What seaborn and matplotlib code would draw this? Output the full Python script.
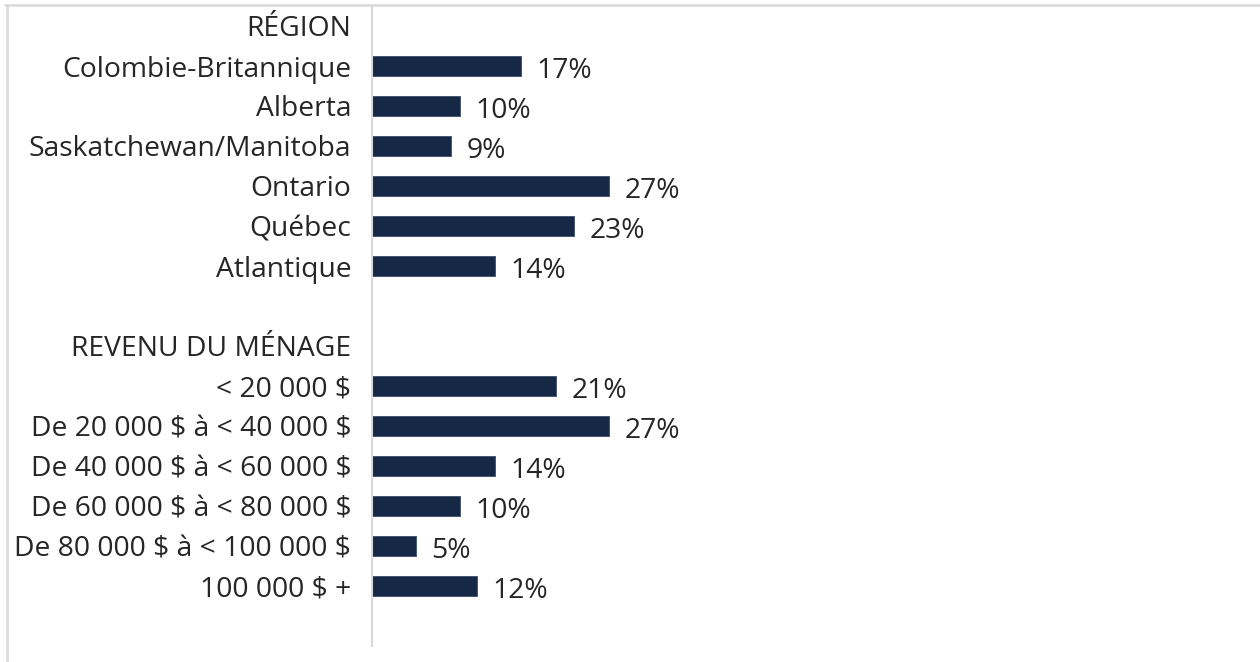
import numpy as np
import pandas as pd
import matplotlib
matplotlib.use("Agg")
import matplotlib.pyplot as plt
from matplotlib.lines import Line2D
import seaborn as sns

# Survey breakdown by region and household income (share of respondents, %)
region_header = "RÉGION"
regions = ["Colombie-Britannique", "Alberta", "Saskatchewan/Manitoba",
           "Ontario", "Québec", "Atlantique"]
region_values = [17, 10, 9, 27, 23, 14]

income_header = "REVENU DU MÉNAGE"
incomes = ["< 20 000 $", "De 20 000 $ à < 40 000 $", "De 40 000 $ à < 60 000 $",
           "De 60 000 $ à < 80 000 $", "De 80 000 $ à < 100 000 $", "100 000 $ +"]
income_values = [21, 27, 14, 10, 5, 12]

# Row order: section headings and spacer rows carry no bar
row_order = ([region_header] + regions + [" "] +
             [income_header] + incomes + ["  "])

df = pd.DataFrame({
    "categorie": regions + incomes,
    "pourcentage": region_values + income_values,
})

sns.set_theme(style="white")
plt.rcParams["font.family"] = ["Open Sans", "DejaVu Sans"]

BAR_COLOR = "#172846"
TEXT_COLOR = "#262626"
RULE_COLOR = "#d9d9d9"
FONT_SIZE = 20.3

fig = plt.figure(figsize=(12.6, 6.62), dpi=100)
ax = fig.add_axes([372 / 1260, 1 - 646 / 662, 878 / 1260, 640 / 662])

sns.barplot(data=df, y="categorie", x="pourcentage", order=row_order,
            orient="h", color=BAR_COLOR, width=0.5, saturation=1,
            edgecolor="#3b4d6b", linewidth=0.6, errorbar=None, ax=ax)

ax.set_xlim(0, 100)
ax.set_xlabel("")
ax.set_ylabel("")
ax.set_xticks([])
# Escape dollar signs so they are drawn literally, not as mathtext
ax.set_yticks(range(len(row_order)),
              labels=[lab.replace("$", r"\$") for lab in row_order])
ax.tick_params(axis="y", length=0, pad=15, labelsize=FONT_SIZE,
               labelcolor=TEXT_COLOR)

for side in ["top", "right", "bottom"]:
    ax.spines[side].set_visible(False)
ax.spines["left"].set_color(RULE_COLOR)
ax.spines["left"].set_linewidth(1.5)

value_labels = ax.bar_label(ax.containers[0], fmt="{:.0f}%", padding=11,
                            fontsize=FONT_SIZE, color=TEXT_COLOR)
# Value labels sit a little below the bar centre line
for t in value_labels:
    t.xyann = (11, -3.5)

# Light frame along the top and left edges
fig.add_artist(Line2D([5 / 1260, 1], [1 - 5 / 662, 1 - 5 / 662],
                      transform=fig.transFigure, color=RULE_COLOR, linewidth=1.8))
fig.add_artist(Line2D([7 / 1260, 7 / 1260], [0, 1 - 5 / 662],
                      transform=fig.transFigure, color=RULE_COLOR, linewidth=1.8))

fig.savefig("out.png", dpi=100, facecolor="white")
